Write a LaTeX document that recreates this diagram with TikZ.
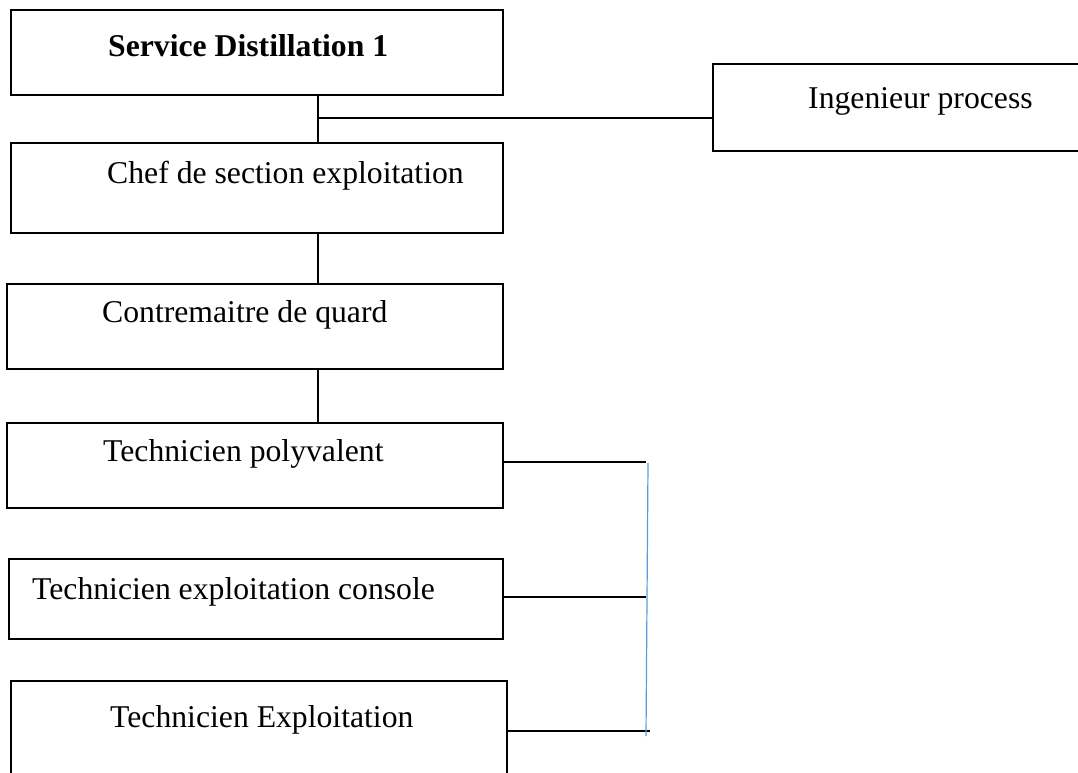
\documentclass[tikz,border=0pt]{standalone}
\usepackage{fontspec}
\setmainfont{Liberation Serif}
\definecolor{linkblue}{RGB}{91,155,213}
\begin{document}
\begin{tikzpicture}[x=1pt,y=-1pt,
  box/.style={draw=black, line width=1.8pt, inner sep=0pt, rectangle},
  lbl/.style={inner sep=0pt, anchor=base west, font=\fontsize{31.7}{38}\selectfont},
  conn/.style={draw=black, line width=1.8pt},
  blueline/.style={draw=linkblue, line width=1.2pt}]
\useasboundingbox (0,0) rectangle (1078,772);
\clip (0,0) rectangle (1078,772);
% boxes
\node[box, minimum width=492pt, minimum height=85pt] (b1) at (257,52.5) {};
\node[box, minimum width=492pt, minimum height=90pt] (b2) at (257,188) {};
\node[box, minimum width=496pt, minimum height=85pt] (b3) at (255,326.5) {};
\node[box, minimum width=496pt, minimum height=85pt] (b4) at (255,465.5) {};
\node[box, minimum width=494pt, minimum height=80pt] (b5) at (256,599) {};
\node[box, minimum width=496pt, minimum height=100pt] (b6) at (259,731) {};
\node[box, minimum width=372pt, minimum height=87pt] (b7) at (899,107.5) {};
% labels
\node[lbl] (t1) at (108,56) {\bfseries Service Distillation 1};
\node[lbl] (t2) at (107,183) {Chef de section exploitation};
\node[lbl] (t3) at (102,322) {Contremaitre de quard};
\node[lbl] (t4) at (103,461) {Technicien polyvalent};
\node[lbl] (t5) at (32,599) {Technicien exploitation console};
\node[lbl] (t6) at (110,727) {Technicien Exploitation};
\node[lbl] (t7) at (808,108) {Ingenieur process};
% connectors
\coordinate (j1) at (318,118);
\draw[conn] (b1.south -| j1) -- (b2.north -| j1);
\draw[conn] (j1) -- (j1 -| b7.west);
\draw[conn] (b2.south -| j1) -- (b3.north -| j1);
\draw[conn] (b3.south -| j1) -- (b4.north -| j1);
\coordinate (e4) at (646,462);
\coordinate (e5) at (646,597);
\coordinate (e6) at (650,731);
\draw[conn] (b4.east |- e4) -- (e4);
\draw[conn] (b5.east |- e5) -- (e5);
\draw[conn] (b6.east |- e6) -- (e6);
\coordinate (vt) at (648,463);
\coordinate (vb) at (646,736);
\draw[blueline] (vt) -- (vb);
\end{tikzpicture}
\end{document}
